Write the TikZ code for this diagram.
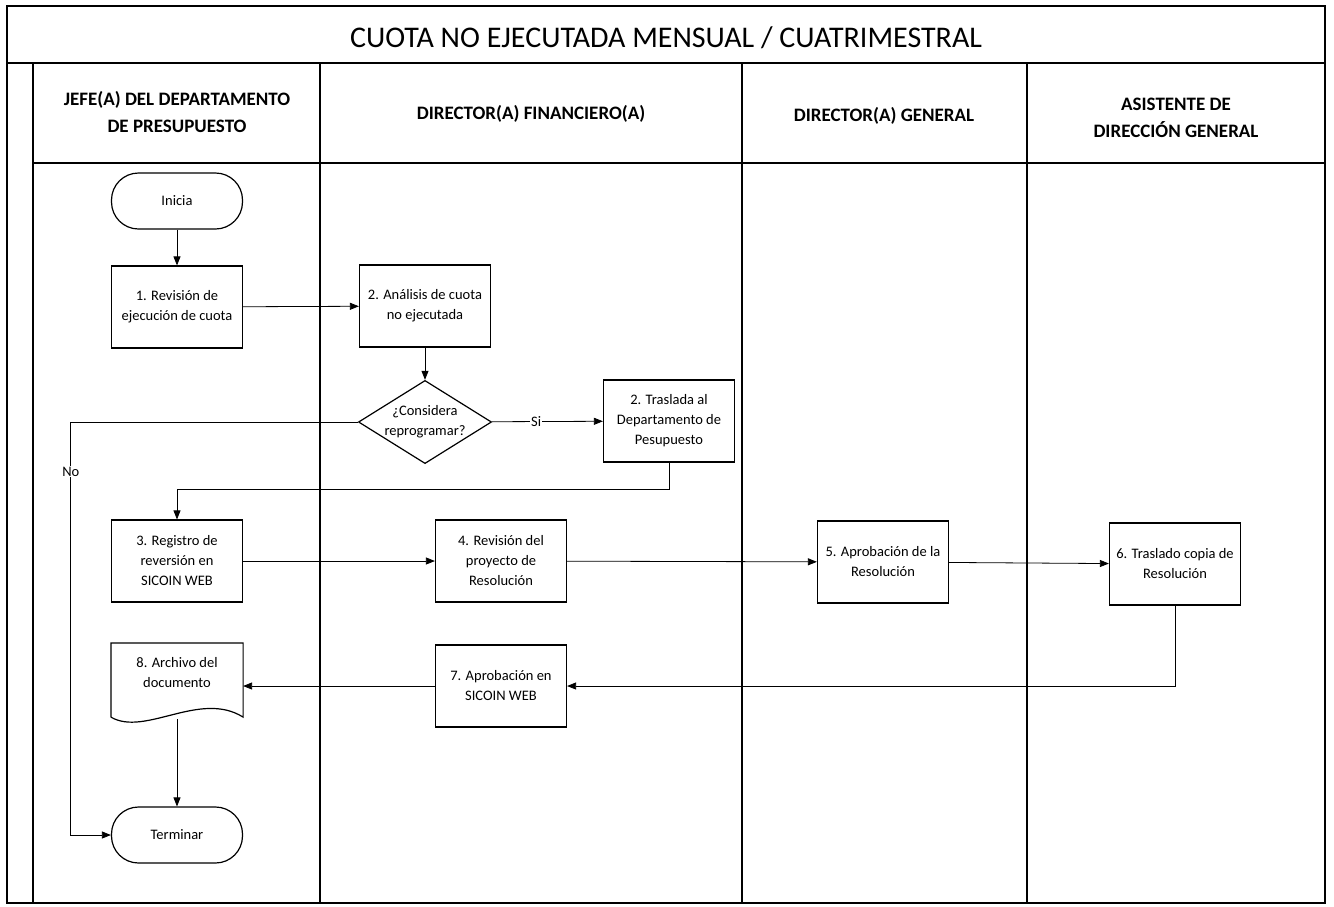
\documentclass[tikz,border=0pt]{standalone}
\usepackage{fontspec}
\setmainfont{Carlito}
\usetikzlibrary{arrows.meta,positioning,shapes.geometric}
\tikzset{
  proc/.style={draw, line width=1.2pt, align=center, minimum width=131pt,
               minimum height=82pt, inner sep=3pt, font=\fontsize{14.5}{20}\selectfont},
  term/.style={proc, rounded corners=27pt, minimum height=56pt},
  deci/.style={proc, diamond, aspect=1.6, minimum width=129pt, minimum height=82pt,
               inner sep=0pt},
  lanehead/.style={align=center, font=\bfseries\fontsize{19}{27}\selectfont},
  flow/.style={-{Triangle[length=9pt,width=7pt]}, line width=0.8pt},
  flowlabel/.style={fill=white, inner sep=1pt, font=\fontsize{14.5}{16}\selectfont}
}
\begin{document}
\begin{tikzpicture}[x=1pt, y=-1pt]
\useasboundingbox (0,0) rectangle (1334,906);
% frame and lanes
\draw[line width=1.6pt] (7,6) rectangle (1325,903);
\draw[line width=1.6pt] (7,63) -- (1325,63);
\draw[line width=1.6pt] (33,163) -- (1325,163);
\foreach \lx in {33,320,742,1027}
  \draw[line width=1.6pt] (\lx,63) -- (\lx,903);
\node[font=\fontsize{30}{34}\selectfont] (title) at (666,38) {CUOTA NO EJECUTADA MENSUAL / CUATRIMESTRAL};
\node[lanehead] (h1) at (177,112) {JEFE(A) DEL DEPARTAMENTO\\DE PRESUPUESTO};
\node[lanehead] (h2) at (531,114) {DIRECTOR(A) FINANCIERO(A)};
\node[lanehead] (h3) at (884,116) {DIRECTOR(A) GENERAL};
\node[lanehead] (h4) at (1176,118) {ASISTENTE DE\\DIRECCIÓN GENERAL};
% steps
\node[term] (ini) at (177,201) {Inicia};
\node[proc] (p1) at (177,307) {1. Revisión de\\ejecución de cuota};
\node[proc] (p2) at (425,306) {2. Análisis de cuota\\no ejecutada};
\node[deci] (dec) at (425,422) {¿Considera\\reprogramar?};
\node[proc] (tr) at (669,421) {2. Traslada al\\Departamento de\\Pesupuesto};
\node[proc] (p3) at (177,561) {3. Registro de\\reversión en\\SICOIN WEB};
\node[proc] (p4) at (501,561) {4. Revisión del\\proyecto de\\Resolución};
\node[proc] (p5) at (883,562) {5. Aprobación de la\\Resolución};
\node[proc] (p6) at (1175,564) {6. Traslado copia de\\Resolución};
\node[proc] (p7) at (501,686) {7. Aprobación en\\SICOIN WEB};
\node[proc, draw=none, minimum height=73pt] (p8) at (177,680) {8. Archivo del\\documento\\[-4pt]};
\draw[line width=1.2pt] (p8.south west) -- (p8.north west) -- (p8.north east) -- (p8.south east)
  .. controls (200,690) and (145,737) .. (p8.south west);
\node[term] (fin) at (177,835) {Terminar};
% connectors
\draw[flow] (ini) -- (p1);
\draw[flow] (p1) -- (p2);
\draw[flow] (p2) -- (dec);
\draw[flow] (dec) -- node[flowlabel, pos=0.4] {Si} (tr);
\draw[flow] (dec.west) -- ++(-287,0) |- node[flowlabel, pos=0.06] {No} (fin.west);
\draw[flow] (tr.south) -- ++(0,27) -| (p3.north);
\draw[flow] (p3) -- (p4);
\draw[flow] (p4) -- (p5);
\draw[flow] (p5) -- (p6);
\draw[flow] (p6.south) |- (p7.east);
\draw[flow] (p7.west) -- (p7.west -| p8.east);
\draw[flow] (177,719) -- (fin.north);
\end{tikzpicture}
\end{document}
